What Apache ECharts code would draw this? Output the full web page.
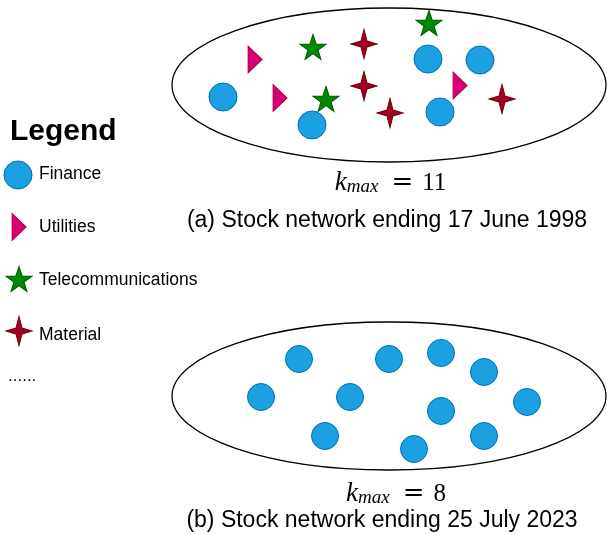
<!DOCTYPE html>
<html>
<head>
<meta charset="utf-8">
<script src="https://cdn.jsdelivr.net/npm/echarts@6/dist/echarts.min.js"></script>
<style>
html,body{margin:0;padding:0;background:#fff;}
#chart{width:607px;height:535px;}
</style>
</head>
<body>
<div id="chart"></div>
<script>
// ---- categories ----
const categories = ['Finance', 'Utilities', 'Telecommunications', 'Material'];

// ---- network (a): node positions (diagram units) ----
const financeA = [[223, 97], [312, 125], [428, 59], [480, 60], [440, 112]];
const utilitiesA = [[255, 59.5], [280, 98], [460, 85.5]];
const telecomA = [[313, 47], [326, 99], [429, 23]];
const materialA = [[364, 44], [364, 86], [390, 113], [502, 99]];

// ---- network (b): node positions ----
const financeB = [[299, 359], [389, 359], [441, 353], [484, 372], [261, 397], [350, 397],
                  [441, 411], [527, 402], [325, 436], [414, 449], [484, 436]];

// ---- network boundaries: [cx, cy, rx, ry] ----
const networks = [[389, 85, 217, 77], [389, 396, 217, 74]];

// ---- legend entries: [x, y] of symbol ----
const legendPos = [[18, 175], [19, 227], [19, 279], [19, 331]];

// ---- texts ----
const kmaxValues = ['11', '8'];
const captions = ['(a) Stock network ending 17 June 1998', '(b) Stock network ending 25 July 2023'];

const COL = {
  Finance: {fill: '#1BA1E2', stroke: '#006EAF'},
  Utilities: {fill: '#D80073', stroke: '#A50040'},
  Telecommunications: {fill: '#008A00', stroke: '#005700'},
  Material: {fill: '#A20025', stroke: '#6F0000'}
};
const SYM = {
  Finance: {symbol: 'circle', size: 28},
  Utilities: {symbol: 'path://M0,0 L14,13.5 L0,27 Z', size: [14, 27]},
  Telecommunications: {symbol: 'path://M50,0 L61.8,35.1 L98.1,35.1 L68.8,56.8 L79.4,91 L50,70 L20.6,91 L31.2,56.8 L1.9,35.1 L38.2,35.1 Z', size: [26, 25]},
  Material: {symbol: 'path://M0,-14.5 L3,-3 L13,0 L3,3 L0,14.5 L-3,3 L-13,0 L-3,-3 Z', size: [26, 29]}
};

function scatter(name, data, size) {
  return {
    type: 'scatter', name: name, data: data,
    symbol: SYM[name].symbol, symbolSize: size || SYM[name].size,
    itemStyle: {color: COL[name].fill, borderColor: COL[name].stroke, borderWidth: 1, opacity: 1},
    emphasis: {disabled: true}, silent: true, z: 3
  };
}

const legendSeries = categories.map((c, i) => ({
  type: 'scatter', data: [legendPos[i]],
  symbol: SYM[c].symbol, symbolSize: SYM[c].size,
  itemStyle: {color: COL[c].fill, borderColor: COL[c].stroke, borderWidth: 1, opacity: 1},
  silent: true, z: 3
}));

const legendLabelY = [174, 227, 280, 335];

const chart = echarts.init(document.getElementById('chart'), null, {renderer: 'canvas'});

const mathRich = {
  k: {fontFamily: 'Liberation Serif', fontStyle: 'italic', fontSize: 27, color: '#000', verticalAlign: 'bottom', lineHeight: 30},
  s: {fontFamily: 'Liberation Serif', fontStyle: 'italic', fontSize: 19, color: '#000', verticalAlign: 'bottom', lineHeight: 18},
  q: {fontFamily: 'DejaVu Serif', fontSize: 26, color: '#000', verticalAlign: 'bottom', lineHeight: 30, padding: [0, 9, 0, 13]},
  n: {fontFamily: 'Liberation Serif', fontSize: 25, color: '#000', verticalAlign: 'bottom', lineHeight: 30}
};

function txt(x, y, text, font, align) {
  return {type: 'text', x: x, y: y, silent: true,
    style: {text: text, font: font, fill: '#000', align: align || 'center', verticalAlign: 'middle',
            textAlign: align || 'center', textVerticalAlign: 'middle'}};
}

function mathText(x, y, v) {
  return {type: 'text', x: x, y: y, silent: true,
    style: {text: '{k|k}{s|max}{q|=}{n|' + v + '}', rich: mathRich, align: 'center', verticalAlign: 'middle'}};
}

chart.setOption({
  animation: false,
  backgroundColor: '#fff',
  grid: {left: 0, right: 0, top: 0, bottom: 0},
  xAxis: {type: 'value', min: 0, max: 607, show: false},
  yAxis: {type: 'value', min: 0, max: 535, inverse: true, show: false},
  series: [
    {
      type: 'custom', data: networks, silent: true, z: 1,
      renderItem: function (params, api) {
        const c = api.coord([api.value(0), api.value(1)]);
        const s = api.size([api.value(2), api.value(3)]);
        return {type: 'ellipse', shape: {cx: c[0], cy: c[1], rx: s[0], ry: s[1]},
                style: {fill: null, stroke: '#000', lineWidth: 1.3}};
      }
    },
    scatter('Finance', financeA, 28),
    scatter('Utilities', utilitiesA),
    scatter('Telecommunications', telecomA),
    scatter('Material', materialA),
    scatter('Finance', financeB, 27)
  ].concat(legendSeries),
  graphic: [
    txt(10, 132, 'Legend', 'bold 30px "Liberation Sans"', 'left'),
    txt(8, 376, '......', '17px "Liberation Sans"', 'left')
  ].concat(categories.map((c, i) => txt(39, legendLabelY[i], c, '17.5px "Liberation Sans"', 'left')))
   .concat([
    txt(387, 221, captions[0], '23px "Liberation Sans"'),
    txt(382, 521, captions[1], '23px "Liberation Sans"'),
    mathText(390.5, 181, kmaxValues[0]),
    mathText(396, 492, kmaxValues[1])
  ])
});
</script>
</body>
</html>
